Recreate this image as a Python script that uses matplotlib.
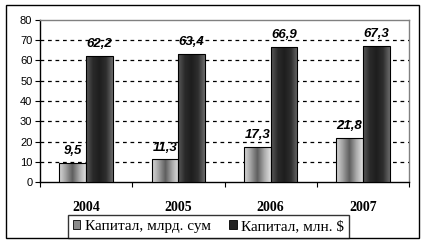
import numpy as np
import matplotlib.pyplot as plt
from matplotlib.patches import Rectangle
from matplotlib.colors import LinearSegmentedColormap

# data
years = ['2004', '2005', '2006', '2007']
cap_sum = [9.5, 11.3, 17.3, 21.8]     # Капитал, млрд. сум
cap_usd = [62.2, 63.4, 66.9, 67.3]    # Капитал, млн. $
labels = ['Капитал, млрд. сум', 'Капитал, млн. $']

fig = plt.figure(figsize=(4.26, 2.45), dpi=100)
fig.patch.set_facecolor('white')

# outer frame
fig.patches.append(Rectangle((6 / 426, 7 / 245), 413 / 426, 233 / 245,
                             transform=fig.transFigure, fill=False,
                             edgecolor='black', lw=1.0, zorder=0))

ax = fig.add_axes([40 / 426, 1 - 182 / 245, 369 / 426, 162 / 245])

x = np.arange(len(years))
w = 0.29

light_cmap = LinearSegmentedColormap.from_list(
    'light', ['#d8d8d8', '#a0a0a0', '#5e5e5e', '#a8a8a8', '#e0e0e0'])
dark_cmap = LinearSegmentedColormap.from_list(
    'dark', ['#5a5a5a', '#2a2a2a', '#1e1e1e', '#2e2e2e', '#6a6a6a'])

bars1 = ax.bar(x - w / 2, cap_sum, w, facecolor='none', edgecolor='black', lw=0.8, zorder=4)
bars2 = ax.bar(x + w / 2, cap_usd, w, facecolor='none', edgecolor='black', lw=0.8, zorder=4)

grad = np.linspace(0, 1, 64).reshape(1, -1)
for bars, cm in ((bars1, light_cmap), (bars2, dark_cmap)):
    for r in bars:
        x0, y0 = r.get_x(), r.get_y()
        im = ax.imshow(grad, cmap=cm, aspect='auto', zorder=3,
                       extent=(x0, x0 + r.get_width(), y0, y0 + r.get_height()))
        im.set_clip_path(r)

for bars, vals in ((bars1, cap_sum), (bars2, cap_usd)):
    for r, v in zip(bars, vals):
        ax.annotate(f'{v:.1f}'.replace('.', ','),
                    (r.get_x() + r.get_width() / 2, v),
                    xytext=(0, 4), textcoords='offset points',
                    ha='center', va='bottom', fontsize=9.5,
                    fontweight='bold', fontstyle='italic',
                    family='Liberation Sans', zorder=5)

ax.set_xlim(-0.5, 3.5)
ax.set_ylim(0, 80)
ax.set_yticks(range(0, 81, 10))
for yv in range(10, 80, 10):
    ax.axhline(yv, color='black', lw=0.9, ls=(0, (3, 3)), zorder=1)

ax.set_xticks(np.arange(-0.5, 3.6, 1.0))
ax.set_xticklabels([])
ax.set_xticks(x, minor=True)
ax.set_xticklabels(years, minor=True, fontsize=10, fontweight='bold',
                   family='Liberation Serif')
ax.tick_params(axis='x', which='major', direction='out', length=3.5, width=0.8)
ax.tick_params(axis='x', which='minor', length=0, pad=14)
ax.tick_params(axis='y', direction='out', length=3.5, width=0.8, labelsize=8, pad=2)
for t in ax.get_yticklabels():
    t.set_family('Liberation Sans')

ax.spines['left'].set_color('black')
ax.spines['bottom'].set_color('black')
ax.spines['top'].set_color('#808080')
ax.spines['right'].set_color('#808080')
for s in ax.spines.values():
    s.set_linewidth(1.0)

h1 = Rectangle((0, 0), 1, 1, facecolor='#8a8a8a', edgecolor='black', lw=0.6)
h2 = Rectangle((0, 0), 1, 1, facecolor='#222222', edgecolor='black', lw=0.6)
leg = fig.legend([h1, h2], labels, loc='center', ncol=2,
                 bbox_to_anchor=(208.5 / 426, 1 - 226.5 / 245),
                 frameon=True, fancybox=False, edgecolor='black',
                 prop={'family': 'Liberation Serif', 'size': 11},
                 handlelength=0.5, handleheight=0.5, handletextpad=0.3,
                 columnspacing=1.2, borderpad=0.3, borderaxespad=0)
leg.get_frame().set_linewidth(1.0)

fig.savefig('out.png', dpi=100)
